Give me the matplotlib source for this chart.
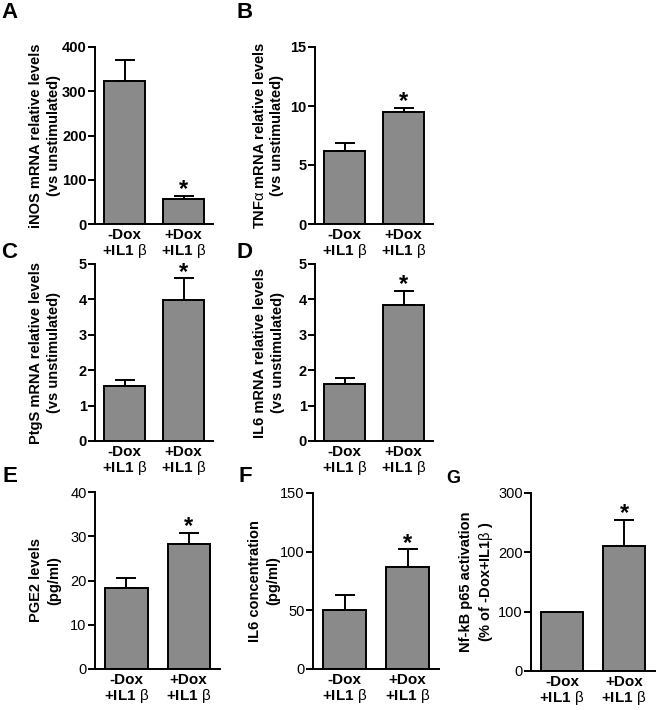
import matplotlib
matplotlib.use("Agg")
import matplotlib.pyplot as plt
import numpy as np

plt.rcParams['font.family'] = ['Liberation Sans', 'DejaVu Sans']
plt.rcParams['mathtext.fontset'] = 'custom'
plt.rcParams['mathtext.rm'] = 'Liberation Sans'
plt.rcParams['mathtext.bf'] = 'Liberation Sans:bold'

# data (mean, upper error)
groups = ["-Dox\n+IL1 $\\mathrm{\\beta}$", "+Dox\n+IL1 $\\mathrm{\\beta}$"]
starred = [False, True]

inos_mean = [323, 57]
inos_err = [48, 7]
tnfa_mean = [6.2, 9.47]
tnfa_err = [0.64, 0.4]
ptgs_mean = [1.56, 3.99]
ptgs_err = [0.17, 0.61]
il6_mrna_mean = [1.6, 3.84]
il6_mrna_err = [0.19, 0.4]
pge2_mean = [18.4, 28.2]
pge2_err = [2.1, 2.6]
il6_conc_mean = [50.5, 87]
il6_conc_err = [12.5, 15.3]
nfkb_mean = [100, 211]
nfkb_err = [0, 44]

W, H = 656, 710
BAR = '#8a8a8a'
LW = 1.4
fig = plt.figure(figsize=(W / 100, H / 100), dpi=100)


def px_rect(l, t, r, b):
    return [l / W, 1 - b / H, (r - l) / W, (b - t) / H]


def draw_panel(rect, mean, err, ymax, ystep, ylabel, label_x, letter, letter_xy,
               bold_ticks=True, letter_size=16):
    ax = fig.add_axes(px_rect(*rect))
    x = np.arange(len(mean))
    ax.bar(x, mean, width=0.68, color=BAR, edgecolor='black', linewidth=LW, zorder=2)
    for xi, m, e, star in zip(x, mean, err, starred):
        if e > 0:
            ax.errorbar(xi, m, yerr=[[0], [e]], fmt='none', ecolor='black',
                        elinewidth=LW, capsize=7.5, capthick=LW, zorder=1)
        if star:
            ax.annotate('*', (xi, m + e), xytext=(0, -4), textcoords='offset points',
                        ha='center', va='bottom', fontsize=17, fontweight='bold')
    ax.set_xlim(-0.5, 1.5)
    ax.set_ylim(0, ymax)
    ax.set_yticks(np.arange(0, ymax + ystep / 2, ystep))
    ax.set_xticks(x, groups)
    wt = 'bold' if bold_ticks else 'normal'
    for t in ax.get_yticklabels():
        t.set_fontweight(wt)
    for t in ax.get_xticklabels():
        t.set_fontweight('bold')
        t.set_linespacing(1.0)
    ax.tick_params(axis='y', length=5, width=LW, labelsize=10.5, pad=1)
    ax.tick_params(axis='x', length=0, labelsize=11, pad=3)
    for s in ['top', 'right']:
        ax.spines[s].set_visible(False)
    for s in ['left', 'bottom']:
        ax.spines[s].set_linewidth(LW)
    ax.patch.set_visible(False)

    cy = (rect[1] + rect[3]) / 2
    fig.text(label_x / W, 1 - cy / H, ylabel, rotation=90, ha='center', va='center',
             fontsize=10.5, fontweight='bold', linespacing=1.35, multialignment='center')
    fig.text(letter_xy[0] / W, 1 - letter_xy[1] / H, letter, ha='left', va='top',
             fontsize=letter_size, fontweight='bold')
    return ax


draw_panel((95, 47, 213, 224), inos_mean, inos_err, 400, 100,
           "iNOS mRNA relative levels\n(vs unstimulated)", 45, 'A', (1, 2))
draw_panel((315, 47, 433, 224), tnfa_mean, tnfa_err, 15, 5,
           "TNF$\\mathrm{\\alpha}$ mRNA relative levels\n(vs unstimulated)", 268, 'B', (237, 2))
draw_panel((95, 264, 213, 441), ptgs_mean, ptgs_err, 5, 1,
           "PtgS mRNA relative levels\n(vs unstimulated)", 45, 'C', (1, 242))
draw_panel((315, 264, 433, 441), il6_mrna_mean, il6_mrna_err, 5, 1,
           "IL6 mRNA relative levels\n(vs unstimulated)", 269, 'D', (236, 242))
draw_panel((95, 492, 220, 669), pge2_mean, pge2_err, 40, 10,
           "PGE2 levels\n(pg/ml)", 45, 'E', (2, 466), bold_ticks=False)
draw_panel((313, 493, 439, 669), il6_conc_mean, il6_conc_err, 150, 50,
           "IL6 concentration\n(pg/ml)", 264, 'F', (239, 466), bold_ticks=False)
draw_panel((531, 493, 655, 671), nfkb_mean, nfkb_err, 300, 100,
           "Nf-kB p65 activation\n(% of -Dox+IL1$\\mathrm{\\beta}$ )", 477, 'G', (446, 470),
           bold_ticks=False, letter_size=13)

fig.savefig('out.png', dpi=100)
